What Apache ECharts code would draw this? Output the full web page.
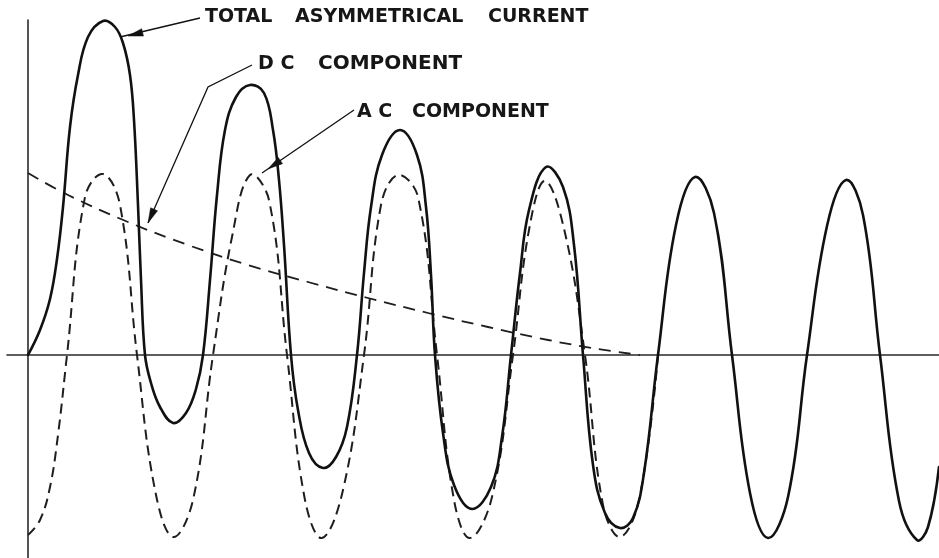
<!DOCTYPE html>
<html>
<head>
<meta charset="utf-8">
<script src="https://cdn.jsdelivr.net/npm/echarts@6/dist/echarts.min.js"></script>
<style>
html,body{margin:0;padding:0;background:#ffffff;}
#chart{width:939px;height:558px;}
</style>
</head>
<body>
<div id="chart"></div>
<script>
// Time axis: arbitrary units (0 = fault inception); current axis: arbitrary units (AC peak ~ 180)
const totalCurrent = [
  [0,0],[12,25],[22,56],[29,96],[35,148],[42,228],[50,280],[60,318],[75,334],[87,328],[95,312],[102,280],[106,235],[110,150],[113,75],[117,0],
  [123,-28],[132,-52],[145,-68],[158,-58],[168,-34],[175,0],
  [182,75],[189,160],[197,225],[208,258],[222,270],[236,262],[245,225],[251,175],[256,110],[263,0],
  [270,-55],[281,-98],[295,-113],[308,-102],[319,-72],[329,0],
  [336,82],[343,148],[354,200],[372,225],[389,200],[398,148],[403,80],[407,0],
  [415,-78],[426,-130],[444,-154],[463,-132],[474,-82],[483,0],
  [492,82],[501,145],[518,188],[535,168],[546,110],[555,0],
  [565,-110],[577,-158],[592,-173],[605,-163],[616,-118],[630,0],
  [648,130],[667,178],[686,142],[704,0],
  [722,-138],[740,-183],[760,-142],[779,0],
  [799,129],[818,175],[835,140],[852,0],
  [871,-146],[889,-185],[900,-172],[911,-112]
];

const acComponent = [
  [0,-180],[12,-165],[22,-132],[30,-80],[39,0],
  [57,158],[75,181],[92,150],[109,0],
  [127,-135],[145,-182],[165,-145],[185,0],
  [204,118],[222,180],[241,155],[259,0],
  [277,-145],[294,-183],[315,-135],[336,0],
  [353,150],[370,180],[390,158],[409,0],
  [426,-145],[442,-183],[464,-142],[485,0],
  [501,125],[517,174],[537,122],[557,0],
  [575,-150],[592,-182],[611,-145],[630,0]
];

const dcComponent = [
  [0,182],[40,160],[100,133],[160,110],[220,90],[280,73],[340,57],[400,42],[460,28],[520,15],[570,6],[612,0]
];

// Label words (text only)
const labelWords = {
  total: ['TOTAL', 'ASYMMETRICAL', 'CURRENT'],
  dc: ['D C', 'COMPONENT'],
  ac: ['A C', 'COMPONENT']
};

const chart = echarts.init(document.getElementById('chart'), null, {renderer: 'canvas'});

const axisLineStyle = {color: '#2a2a2a', width: 1.6};

// A smooth curve drawn through the data points, positioned by the cartesian axes.
function curveSeries(name, data, lineStyle, z) {
  return {
    name: name,
    type: 'custom',
    coordinateSystem: 'cartesian2d',
    data: data,
    encode: {x: 0, y: 1},
    silent: true,
    z: z,
    renderItem: function (params, api) {
      if (params.dataIndex !== 0) return null;
      const pts = data.map(function (p) { return api.coord(p); });
      return {
        type: 'polyline',
        shape: {points: pts, smooth: 0.4},
        style: Object.assign({fill: 'none', lineJoin: 'round', lineCap: 'round'}, lineStyle)
      };
    }
  };
}

const option = {
  animation: false,
  backgroundColor: '#ffffff',
  grid: {left: 7, right: 0, top: 20, bottom: 0, containLabel: false},
  xAxis: {
    type: 'value', min: -21, max: 911,
    axisLine: {show: true, onZero: true, lineStyle: axisLineStyle},
    axisTick: {show: false}, axisLabel: {show: false}, splitLine: {show: false}
  },
  yAxis: {
    type: 'value', min: -203, max: 335,
    axisLine: {show: true, onZero: true, lineStyle: axisLineStyle},
    axisTick: {show: false}, axisLabel: {show: false}, splitLine: {show: false}
  },
  series: [
    curveSeries('DC component', dcComponent, {stroke: '#1e1e1e', lineWidth: 1.8, lineDash: [12, 8], lineCap: 'butt'}, 2),
    curveSeries('AC component', acComponent, {stroke: '#1e1e1e', lineWidth: 2, lineDash: [10, 6], lineCap: 'butt'}, 2),
    curveSeries('Total asymmetrical current', totalCurrent, {stroke: '#111111', lineWidth: 2.6}, 3)
  ]
};
chart.setOption(option);

// Leader lines anchored in data space
const leaders = [
  {path: [[172,337],[92,318]], tip: [100,319]},
  {path: [[224,290],[180,268],[120,132]], tip: [120,132]},
  {path: [[326,245],[234,182]], tip: [240,186]}
];

function toPx(p) { return chart.convertToPixel({gridIndex: 0}, p); }

function arrowHead(tip, from, len, half) {
  const dx = tip[0] - from[0], dy = tip[1] - from[1];
  const L = Math.hypot(dx, dy) || 1;
  const ux = dx / L, uy = dy / L;
  const bx = tip[0] - ux * len, by = tip[1] - uy * len;
  const nx = -uy, ny = ux;
  return [[tip[0], tip[1]], [bx + nx * half, by + ny * half], [bx - nx * half, by - ny * half]];
}

const graphics = [];
leaders.forEach(function (ld) {
  const pts = ld.path.map(toPx);
  graphics.push({
    type: 'polyline', silent: true, z: 10,
    shape: {points: pts},
    style: {stroke: '#111', lineWidth: 1.3, fill: null}
  });
  const tip = toPx(ld.tip);
  const from = pts[pts.length - 2];
  graphics.push({
    type: 'polygon', silent: true, z: 11,
    shape: {points: arrowHead(tip, from, 15, 3.8)},
    style: {fill: '#111', stroke: '#111', lineWidth: 0.5}
  });
});

const textFont = {fontFamily: '"DejaVu Sans"', fontSize: 19, fontWeight: 'bold'};
function word(text, x, y, size) {
  return {
    type: 'text', silent: true, z: 12, x: x, y: y,
    style: {
      text: text, fill: '#161616',
      fontFamily: textFont.fontFamily, fontSize: size || textFont.fontSize, fontWeight: textFont.fontWeight,
      align: 'left', verticalAlign: 'middle'
    }
  };
}
graphics.push(word(labelWords.total[0], 205, 17));
graphics.push(word(labelWords.total[1], 295, 17));
graphics.push(word(labelWords.total[2], 488, 17));
graphics.push(word(labelWords.dc[0], 258, 64));
graphics.push(word(labelWords.dc[1], 318, 64, 20));
graphics.push(word(labelWords.ac[0], 357, 112));
graphics.push(word(labelWords.ac[1], 412, 112));

chart.setOption({graphic: graphics});
</script>
</body>
</html>
